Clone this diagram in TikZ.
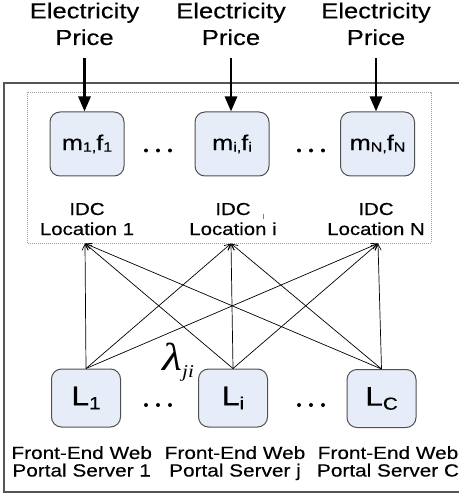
\documentclass[tikz,border=0pt]{standalone}
\usepackage{fontspec}
\setmainfont{Liberation Sans}[RawFeature={embolden=0.3}]
\newfontfamily\lamfont{Liberation Serif}
\usepackage{graphicx}
\usetikzlibrary{arrows.meta}
\definecolor{boxfill}{RGB}{230,237,248}
\definecolor{boxline}{RGB}{80,80,80}
\definecolor{frameline}{RGB}{85,85,85}
\newcommand\hs[1]{\scalebox{1.18}[1]{#1}}
\newcommand\mlines[1]{\hs{\begin{tabular}[b]{@{}c@{}}#1\end{tabular}}}
\newcommand\msub[1]{\raisebox{-1.5pt}{\fontsize{13.5}{13.5}\selectfont #1}}
\newcommand\lsub[1]{\raisebox{-4pt}{\fontsize{17.5}{17.5}\selectfont #1}}
\begin{document}
\begin{tikzpicture}[x=1pt,y=-1pt,
  lbl/.style={inner sep=0pt, anchor=base},
  pricelbl/.style={lbl, font=\fontsize{21.7}{26.7}\selectfont},
  idclbl/.style={lbl, font=\fontsize{17.3}{20}\selectfont},
  weblbl/.style={lbl, font=\fontsize{17.6}{16}\selectfont},
  roundbox/.style={draw=boxline, fill=boxfill, line width=1pt, rounded corners=10pt, inner sep=0pt},
  idcbox/.style={roundbox, minimum width=74pt, minimum height=64pt, font=\fontsize{21.5}{21.5}\selectfont},
  webbox/.style={roundbox, minimum width=69pt, minimum height=58pt, font=\fontsize{27}{27}\selectfont},
  pricearrow/.style={line width=2.8pt, -{Triangle[length=15pt,width=12pt]}, shorten <=5pt},
  flow/.style={line width=0.7pt, -{Straight Barb[length=6pt,width=6pt]}},
  frame/.style={draw=frameline, line width=1.2pt},
  group/.style={draw=gray!75, line width=0.7pt, dash pattern=on 0.7pt off 1.3pt},
  dot/.style={fill=black},
]
\useasboundingbox (0,0) rectangle (458,494);
% frames
\draw[frame] (4,83) rectangle (464,492);
\draw[group] (27,92) rectangle (431,243);
% price labels
\node[pricelbl] (p1) at (84.5,45) {\mlines{Electricity\\Price}};
\node[pricelbl] (p2) at (231,45) {\mlines{Electricity\\Price}};
\node[pricelbl] (p3) at (376,45) {\mlines{Electricity\\Price}};
% IDC boxes
\node[idcbox] (m1) at (87,144) {\hs{m\msub{1,}f\msub{1}}};
\node[idcbox] (mi) at (232,144) {\hs{m\msub{i,}f\msub{i}}};
\node[idcbox] (mN) at (377.5,144) {\hs{m\msub{N,}f\msub{N}}};
\draw[pricearrow] (p1.south) -- (p1.south |- m1.north);
\draw[pricearrow] (p2.south) -- (p2.south |- mi.north);
\draw[pricearrow] (p3.south) -- (p3.south |- mN.north);
% IDC labels
\node[idclbl] (d1) at (87,235) {\mlines{IDC\\Location 1}};
\node[idclbl] (di) at (233,235) {\mlines{IDC\\Location i}};
\node[idclbl] (dN) at (376,235) {\mlines{IDC\\Location N}};
\draw[gray, line width=0.6pt] (263,214) -- (263,219);
% dots
\foreach \x in {146,158,170,299,311,323}{
  \fill[dot] (\x,150.5) circle (2);
  \fill[dot] (\x,405) circle (2);
}
% web boxes
\node[webbox] (l1) at (86,398) {\hs{L\lsub{1}}};
\node[webbox] (li) at (233,398) {\hs{L\lsub{i}}};
\node[webbox] (lc) at (381.5,398.5) {\hs{L\lsub{C}}};
% connector targets
\coordinate (t1) at (85,243.5);
\coordinate (ti) at (231,243.5);
\coordinate (tN) at (378,243.5);
\foreach \b in {l1,li,lc}{
  \foreach \t in {t1,ti,tN}{
    \draw[flow] (\b.north) -- (\t);
  }
}
% lambda
\node[lbl, anchor=base west] (lam) at (162,370) {\hs{\lamfont\itshape\fontsize{39}{39}\selectfont λ\raisebox{-7pt}{\fontsize{18}{18}\selectfont ji}}};
% web labels
\node[weblbl] (w1) at (81.7,476.5) {\mlines{Front-End Web\\Portal Server 1}};
\node[weblbl] (w2) at (235,476.5) {\mlines{Front-End Web\\Portal Server j}};
\node[weblbl] (w3) at (388,476.5) {\mlines{Front-End Web\\Portal Server C}};
\end{tikzpicture}
\end{document}
